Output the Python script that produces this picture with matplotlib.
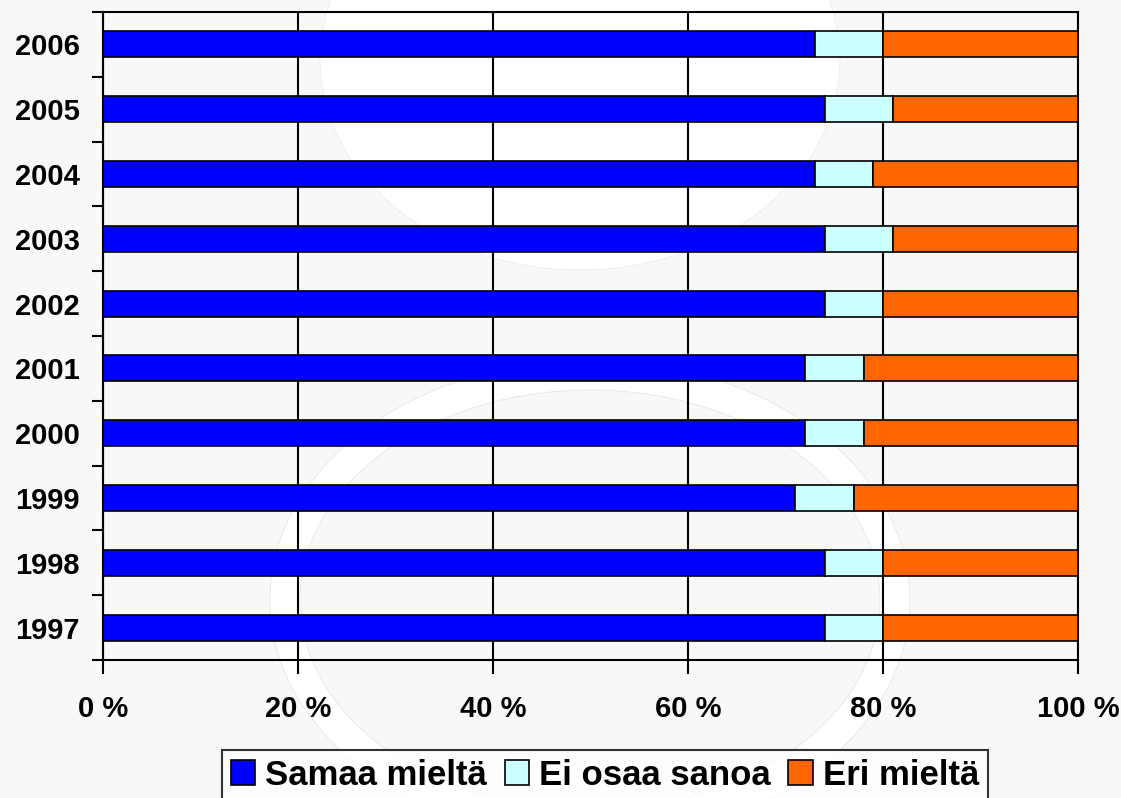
import numpy as np
import matplotlib.pyplot as plt
from matplotlib.patches import Ellipse

plt.rcParams['font.family'] = ['Liberation Sans', 'DejaVu Sans']
plt.rcParams['font.weight'] = 'bold'

# data (percent)
years = ["1997", "1998", "1999", "2000", "2001", "2002", "2003", "2004", "2005", "2006"]
samaa = [74, 74, 71, 72, 72, 74, 74, 73, 74, 73]
ei_osaa = [6, 6, 6, 6, 6, 6, 7, 6, 7, 7]
eri = [20, 20, 23, 22, 22, 20, 19, 21, 19, 20]
labels = ["Samaa mieltä", "Ei osaa sanoa", "Eri mieltä"]
colors = ["#0000ff", "#ccffff", "#ff6600"]

fig = plt.figure(figsize=(11.21, 7.98), dpi=100, facecolor="#f8f8f8")

# faint background decoration
bg = fig.add_axes([0, 0, 1, 1], zorder=-10)
bg.set_xlim(0, 1121)
bg.set_ylim(798, 0)
bg.axis("off")
bg.add_patch(Ellipse((590, 600), 640, 480, facecolor="white", edgecolor="#e6e6e6", lw=0.6))
bg.add_patch(Ellipse((590, 600), 580, 420, facecolor="#f8f8f8", edgecolor="#e6e6e6", lw=0.6))
bg.add_patch(Ellipse((580, 60), 520, 420, facecolor="white", edgecolor="#ececec", lw=0.6))

ax = fig.add_axes([103/1121, 1 - 660/798, 975/1121, 648/798])
ax.patch.set_alpha(0)

y = np.arange(len(years))
s = np.array(samaa)
e = np.array(ei_osaa)
r = np.array(eri)
ax.barh(y, s, height=0.4, color=colors[0], edgecolor="black", lw=1.2, label=labels[0], zorder=3)
ax.barh(y, e, left=s, height=0.4, color=colors[1], edgecolor="black", lw=1.2, label=labels[1], zorder=3)
ax.barh(y, r, left=s + e, height=0.4, color=colors[2], edgecolor="black", lw=1.2, label=labels[2], zorder=3)

ax.set_xlim(0, 100)
ax.set_ylim(-0.5, len(years) - 0.5)
ax.set_xticks(np.arange(0, 101, 20))
ax.set_xticklabels([f"{v} %" for v in range(0, 101, 20)], fontsize=21, fontweight="bold")
ax.set_yticks(y)
ax.set_yticklabels(years, fontsize=21, fontweight="bold")
ax.set_yticks(np.arange(-0.5, len(years), 1), minor=True)
ax.tick_params(axis="y", which="major", length=0, pad=17)
ax.tick_params(axis="y", which="minor", length=8, width=1.5, direction="out")
ax.tick_params(axis="x", length=10, width=1.5, direction="out", pad=15)
ax.grid(axis="x", color="black", lw=1.5, zorder=0)
for sp in ax.spines.values():
    sp.set_linewidth(1.5)
    sp.set_color("black")

leg = fig.legend(loc="upper left", bbox_to_anchor=(222/1121, 1 - 750/798), ncol=3,
                 prop={"weight": "bold", "size": 25}, frameon=True, fancybox=False,
                 handlelength=0.7, handleheight=0.7, handletextpad=0.3, columnspacing=0.5,
                 borderpad=0.25, borderaxespad=0)
leg.get_frame().set_edgecolor("black")
leg.get_frame().set_linewidth(1.5)
leg.get_frame().set_facecolor("white")

fig.savefig("out.png", dpi=100, facecolor=fig.get_facecolor())
